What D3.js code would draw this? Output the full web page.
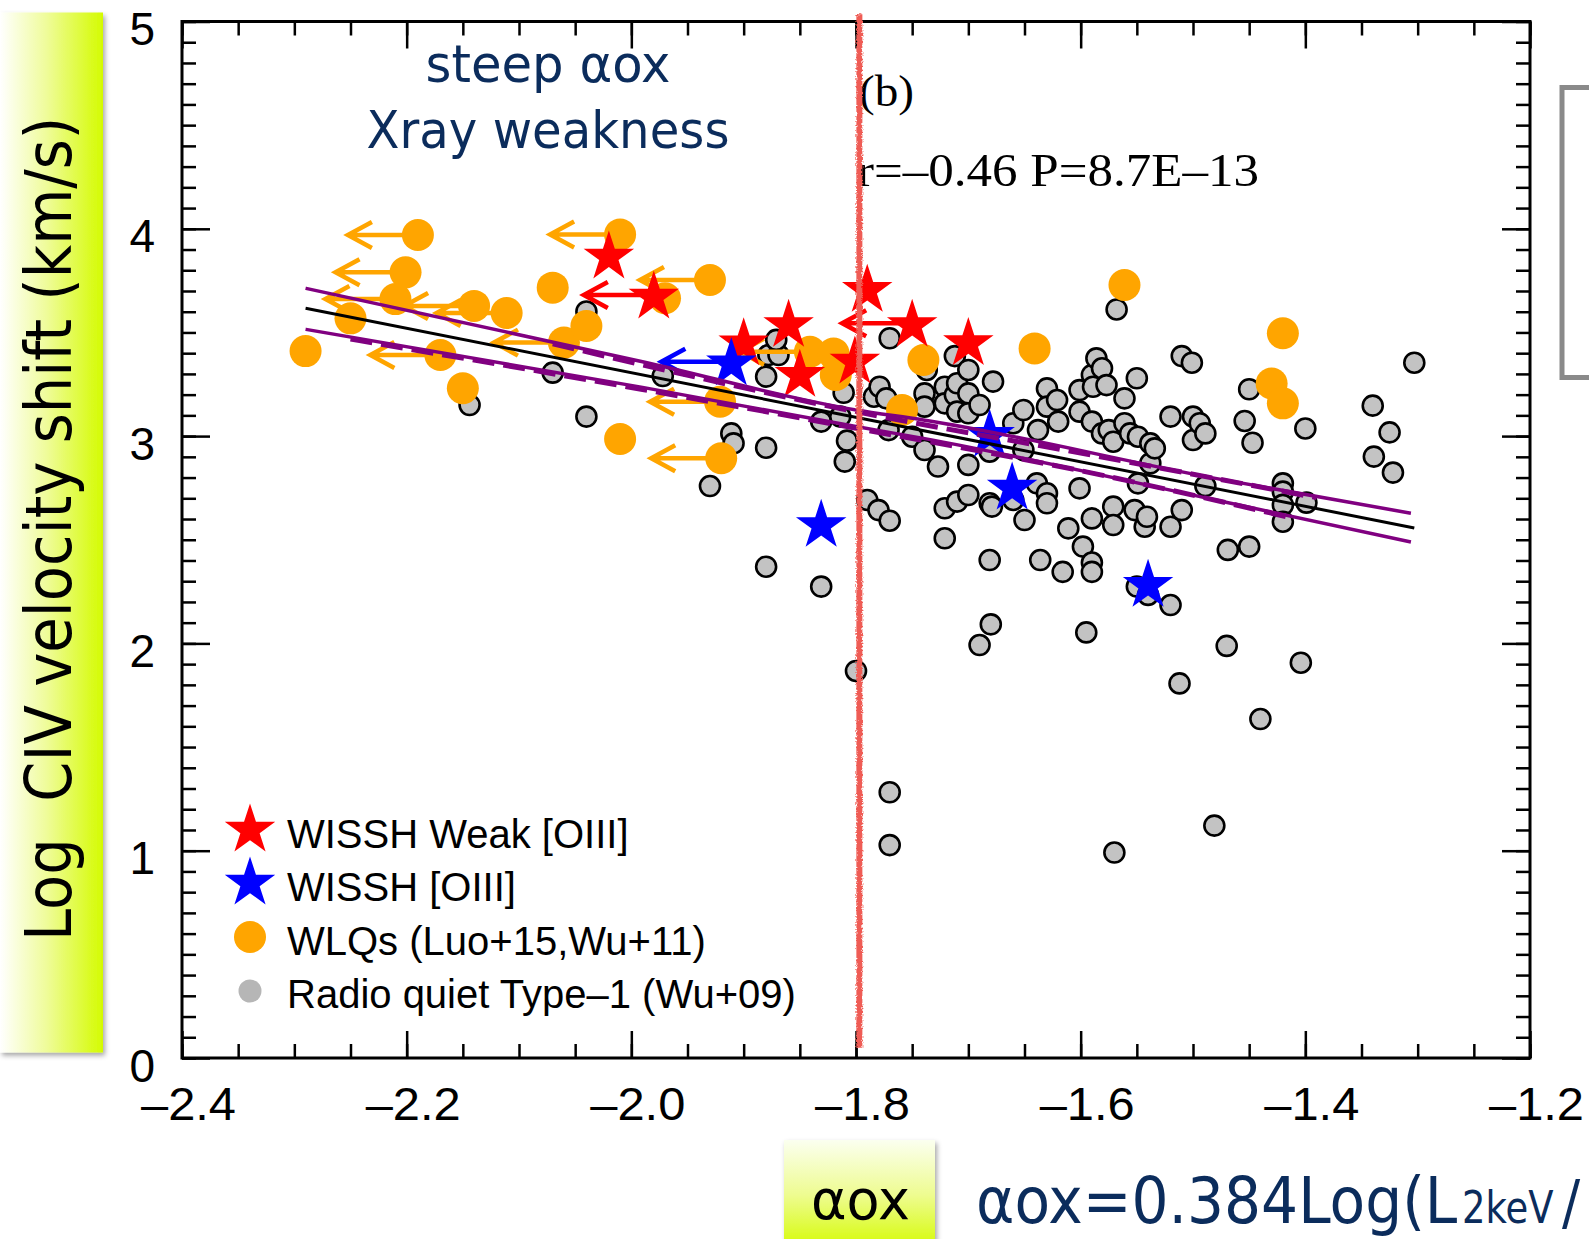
<!DOCTYPE html>
<html><head><meta charset="utf-8">
<script src="https://cdn.jsdelivr.net/npm/d3@7"></script>
<style>body{margin:0;background:#fff;} svg{display:block;}</style>
</head><body>
<svg id="chart" width="1589" height="1239"></svg>
<script>
// ---------------- DATA ----------------
const xTickValues = [-2.4, -2.2, -2.0, -1.8, -1.6, -1.4, -1.2];
const xTickLabels = ["–2.4", "–2.2", "–2.0", "–1.8", "–1.6", "–1.4", "–1.2"];
const yTickValues = [0, 1, 2, 3, 4, 5];
const yTickLabels = ["0", "1", "2", "3", "4", "5"];

// Radio quiet Type-1 (Wu+09)
const grayX = [-2.144,-2.070,-2.040,-2.040,-1.972,-1.930,-1.911,-1.909,-1.880,-1.880,-1.878,-1.869,-1.871,-1.880,-1.831,-1.831,-1.814,-1.811,-1.808,-1.810,
  -1.800,-1.790,-1.784,-1.780,-1.779,-1.773,-1.771,-1.770,-1.770,-1.770,-1.770,-1.750,-1.739,-1.739,-1.739,-1.737,-1.727,-1.721,-1.721,-1.721,
  -1.721,-1.712,-1.712,-1.710,-1.710,-1.710,-1.700,-1.700,-1.700,-1.700,-1.700,-1.690,-1.690,-1.681,-1.681,-1.681,-1.680,-1.679,-1.678,-1.660,
  -1.660,-1.651,-1.651,-1.650,-1.639,-1.638,-1.636,-1.630,-1.630,-1.630,-1.630,-1.621,-1.620,-1.616,-1.611,-1.601,-1.601,-1.601,-1.598,-1.595,
  -1.590,-1.590,-1.590,-1.590,-1.590,-1.589,-1.586,-1.581,-1.581,-1.577,-1.575,-1.571,-1.571,-1.571,-1.570,-1.568,-1.561,-1.561,-1.556,-1.552,
  -1.550,-1.550,-1.549,-1.549,-1.543,-1.541,-1.540,-1.538,-1.538,-1.534,-1.520,-1.520,-1.520,-1.512,-1.510,-1.510,-1.501,-1.500,-1.500,-1.494,
  -1.489,-1.489,-1.481,-1.470,-1.469,-1.454,-1.450,-1.450,-1.447,-1.440,-1.420,-1.420,-1.420,-1.420,-1.404,-1.400,-1.399,-1.340,-1.339,-1.325,
  -1.322,-1.303];
const grayY = [3.150,3.306,3.601,3.094,3.290,2.759,3.013,2.965,2.944,3.287,3.391,3.391,3.464,2.370,3.070,2.274,3.094,3.209,2.978,2.877,
  1.867,2.692,3.190,2.643,3.238,3.182,3.029,3.472,2.592,1.282,1.027,2.997,3.206,3.142,2.933,3.319,2.853,3.238,3.158,2.652,
  2.507,3.386,3.198,3.255,3.118,2.684,3.319,3.206,3.110,2.861,2.716,3.150,1.992,2.925,2.676,2.402,2.092,2.660,3.263,3.062,
  2.692,3.126,2.933,2.595,2.772,3.029,2.402,3.230,3.142,2.724,2.676,3.174,3.070,2.345,2.555,3.222,3.118,2.748,2.467,2.053,
  3.295,3.070,2.603,2.390,2.345,3.238,3.375,3.327,3.013,3.246,3.029,2.973,2.660,2.571,0.991,3.611,3.182,3.062,3.013,2.643,
  3.279,2.274,2.997,2.772,2.563,2.611,2.234,2.965,2.869,2.941,3.094,2.563,2.185,1.807,3.386,2.643,3.354,3.094,2.981,3.062,
  3.013,2.759,1.121,1.988,2.451,3.073,3.226,2.467,2.968,1.635,2.772,2.732,2.668,2.587,1.907,3.037,2.679,3.147,2.901,3.018,
  2.824,3.354];

// WLQs (Luo+15, Wu+11); limit = 1 means upper limit on alpha_ox (left arrow)
const wlqX = [-2.190,-2.010,-2.201,-1.930,-2.210,-2.140,-2.111,-2.170,-2.060,-1.921,-1.920,-1.841,
  -2.070,-2.250,-2.290,-2.040,-2.150,-2.010,-1.970,-1.820,-1.818,-1.759,-1.740,-1.561,-1.641,-1.420,-1.430,-1.420];
const wlqY = [3.970,3.973,3.790,3.753,3.661,3.628,3.594,3.391,3.451,3.166,2.893,3.407,
  3.716,3.568,3.410,3.531,3.231,2.986,3.665,3.399,3.295,3.126,3.367,3.729,3.423,3.496,3.254,3.158];
const wlqLimit = [1,1,1,1,1,1,1,1,1,1,1,1, 0,0,0,0,0,0,0,0,0,0,0,0,0,0,0,0];

// WISSH Weak [OIII]
const weakX = [-2.020,-1.980,-1.900,-1.860,-1.850,-1.801,-1.790,-1.750,-1.700];
const weakY = [3.874,3.681,3.455,3.544,3.303,3.367,3.713,3.544,3.456];
const weakLimit = [0,1,0,0,0,0,0,1,0];

// WISSH [OIII]
const wisshX = [-1.911,-1.831,-1.681,-1.661,-1.540];
const wisshY = [3.359,2.579,3.014,2.759,2.290];
const wisshLimit = [1,0,0,0,0];

// linear fit and its confidence band
const fitX = [-2.29, -1.303];
const fitY = [3.617, 2.557];
const bandX = [-2.29, -1.99, -1.80, -1.74, -1.48, -1.306];
const bandUpper = [3.713, 3.359, 3.126, 3.078, 2.796, 2.628];
const bandLower = [3.515, 3.235, 3.046, 2.989, 2.692, 2.489];
const dashUpperX = [-2.07, -1.80, -1.60, -1.39];
const dashUpperY = [3.445, 3.118, 2.918, 2.703];
const dashLowerX = [-2.25, -1.99, -1.80, -1.60, -1.41];
const dashLowerY = [3.468, 3.225, 3.038, 2.833, 2.603];

// alpha_ox threshold
const thresholdX = -1.797;
const thresholdY = [0.05, 5.035];

const legendLabels = ["WISSH Weak [OIII]", "WISSH [OIII]", "WLQs (Luo+15,Wu+11)", "Radio quiet Type–1 (Wu+09)"];

// ---------------- DRAWING ----------------
const svg = d3.select("#chart");
const M = {left: 182, right: 1530, top: 21.5, bottom: 1058};
const x = d3.scaleLinear().domain([-2.4, -1.2]).range([M.left, M.right]);
const y = d3.scaleLinear().domain([0, 5]).range([M.bottom, M.top]);

svg.append("rect").attr("width", 1589).attr("height", 1239).attr("fill", "#fff");

const defs = svg.append("defs");
const gH = defs.append("linearGradient").attr("id", "gH").attr("x1", "0").attr("x2", "1").attr("y1", "0").attr("y2", "0");
gH.append("stop").attr("offset", "0").attr("stop-color", "#ffffff");
gH.append("stop").attr("offset", "0.45").attr("stop-color", "#effc9a");
gH.append("stop").attr("offset", "1").attr("stop-color", "#d4fb00");
const gV = defs.append("linearGradient").attr("id", "gV").attr("x1", "0").attr("x2", "0").attr("y1", "0").attr("y2", "1");
gV.append("stop").attr("offset", "0").attr("stop-color", "#fbfff0");
gV.append("stop").attr("offset", "0.5").attr("stop-color", "#eefc90");
gV.append("stop").attr("offset", "1").attr("stop-color", "#d4fb00");
const sh = defs.append("filter").attr("id", "sh").attr("x", "-10%").attr("y", "-5%").attr("width", "130%").attr("height", "110%");
sh.append("feDropShadow").attr("dx", 2).attr("dy", 3).attr("stdDeviation", 2.5).attr("flood-color", "#000").attr("flood-opacity", 0.35);
const rough = defs.append("filter").attr("id", "rough").attr("filterUnits", "userSpaceOnUse")
  .attr("x", 820).attr("y", 0).attr("width", 80).attr("height", 1100);
rough.append("feTurbulence").attr("type", "fractalNoise").attr("baseFrequency", 0.6).attr("numOctaves", 2).attr("seed", 3).attr("result", "n");
rough.append("feDisplacementMap").attr("in", "SourceGraphic").attr("in2", "n").attr("scale", 4)
  .attr("xChannelSelector", "R").attr("yChannelSelector", "G");

// y-title box
svg.append("rect").attr("x", 0).attr("y", 12.5).attr("width", 103).attr("height", 1040)
  .attr("fill", "url(#gH)").attr("filter", "url(#sh)");
svg.append("text").attr("transform", "translate(71,529) rotate(-90) scale(0.9,1)")
  .attr("text-anchor", "middle").style("white-space", "pre")
  .style("font-family", "'DejaVu Sans'").style("font-size", "64px").attr("fill", "#000")
  .text("Log  CIV velocity shift (km/s)");

// x-title box
svg.append("rect").attr("x", 784).attr("y", 1140).attr("width", 151).attr("height", 110)
  .attr("fill", "url(#gV)").attr("filter", "url(#sh)");
svg.append("text").attr("transform", "translate(811,1219) scale(0.965,1)")
  .style("font-family", "'DejaVu Sans'").style("font-size", "56px").attr("fill", "#000").text("αox");
const navy = "#0b2c5c";
svg.append("text").attr("transform", "translate(976,1223) scale(0.91,1)")
  .style("font-family", "'DejaVu Sans'").style("font-size", "64px").attr("fill", navy).text("αox=0.384Log(L");
svg.append("text").attr("transform", "translate(1462,1223) scale(0.84,1)")
  .style("font-family", "'DejaVu Sans'").style("font-size", "44px").attr("fill", navy).text("2keV");
svg.append("text").attr("transform", "translate(1562,1223) scale(0.9,1)")
  .style("font-family", "'DejaVu Sans'").style("font-size", "60px").attr("fill", navy).text("/");

// right partial box
svg.append("rect").attr("x", 1562).attr("y", 87.5).attr("width", 60).attr("height", 290)
  .attr("fill", "none").attr("stroke", "#8a8a8a").attr("stroke-width", 5);

// axes
const tickFont = g => g.selectAll("text").style("font-family", "'Liberation Sans', Arial, sans-serif")
  .style("font-size", "46px").attr("fill", "#000");
const tickLines = g => { g.select(".domain").remove(); g.selectAll("line").attr("stroke", "#000").attr("stroke-width", 2.5); };
const xMinor = d3.range(-2.4, -1.1999, 0.05);
const yMinor = d3.range(0, 5.0001, 0.1);

svg.append("g").attr("transform", `translate(0,${M.bottom})`)
  .call(d3.axisBottom(x).tickValues(xMinor).tickSize(-14).tickSizeOuter(0).tickFormat("")).call(tickLines);
svg.append("g").attr("transform", `translate(0,${M.bottom})`)
  .call(d3.axisBottom(x).tickValues(xTickValues).tickSize(-27).tickSizeOuter(0).tickPadding(29)
    .tickFormat((d, i) => xTickLabels[i])).call(tickLines).call(tickFont)
  .call(g => g.selectAll("text").attr("dx", 6).attr("textLength", 95).attr("lengthAdjust", "spacingAndGlyphs"));
svg.append("g").attr("transform", `translate(0,${M.top})`)
  .call(d3.axisTop(x).tickValues(xMinor).tickSize(-14).tickSizeOuter(0).tickFormat("")).call(tickLines);
svg.append("g").attr("transform", `translate(0,${M.top})`)
  .call(d3.axisTop(x).tickValues(xTickValues).tickSize(-27).tickSizeOuter(0).tickFormat("")).call(tickLines);
svg.append("g").attr("transform", `translate(${M.left},0)`)
  .call(d3.axisLeft(y).tickValues(yMinor).tickSize(-14).tickSizeOuter(0).tickFormat("")).call(tickLines);
svg.append("g").attr("transform", `translate(${M.left},0)`)
  .call(d3.axisLeft(y).tickValues(yTickValues).tickSize(-28).tickSizeOuter(0).tickPadding(27)
    .tickFormat((d, i) => yTickLabels[i])).call(tickLines).call(tickFont)
  .call(g => g.selectAll("text").attr("dy", "0.5em"));
svg.append("g").attr("transform", `translate(${M.right},0)`)
  .call(d3.axisRight(y).tickValues(yMinor).tickSize(-14).tickSizeOuter(0).tickFormat("")).call(tickLines);
svg.append("g").attr("transform", `translate(${M.right},0)`)
  .call(d3.axisRight(y).tickValues(yTickValues).tickSize(-28).tickSizeOuter(0).tickFormat("")).call(tickLines);

svg.append("rect").attr("x", M.left).attr("y", M.top).attr("width", M.right - M.left).attr("height", M.bottom - M.top)
  .attr("fill", "none").attr("stroke", "#000").attr("stroke-width", 3);

// helpers
const ARROW = 70, HEAD_X = 24, HEAD_Y = 13;
function drawArrow(g, px, py, color) {
  const hx = px - ARROW;
  g.append("path").attr("d", `M${px},${py}L${hx},${py}M${hx + HEAD_X},${py - HEAD_Y}L${hx},${py}L${hx + HEAD_X},${py + HEAD_Y}`)
    .attr("fill", "none").attr("stroke", color).attr("stroke-width", 4.5).attr("stroke-linejoin", "miter");
}
const star = d3.symbol().type(d3.symbolStar).size(790);

// gray points
const gGray = svg.append("g");
grayX.forEach((v, i) => {
  gGray.append("circle").attr("cx", x(v)).attr("cy", y(grayY[i])).attr("r", 10)
    .attr("fill", "#c3c3c3").attr("stroke", "#000").attr("stroke-width", 2.6);
});

// WLQs
const gW = svg.append("g");
wlqX.forEach((v, i) => { if (wlqLimit[i]) drawArrow(gW, x(v), y(wlqY[i]), "#ffa500"); });
wlqX.forEach((v, i) => {
  gW.append("circle").attr("cx", x(v)).attr("cy", y(wlqY[i])).attr("r", 16).attr("fill", "#ffa500");
});

// stars
const gS = svg.append("g");
wisshX.forEach((v, i) => { if (wisshLimit[i]) drawArrow(gS, x(v), y(wisshY[i]), "#0000ff"); });
weakX.forEach((v, i) => { if (weakLimit[i]) drawArrow(gS, x(v), y(weakY[i]), "#ff0000"); });
weakX.forEach((v, i) => {
  gS.append("path").attr("d", star).attr("transform", `translate(${x(v)},${y(weakY[i]) + 2})`).attr("fill", "#ff0000");
});
wisshX.forEach((v, i) => {
  gS.append("path").attr("d", star).attr("transform", `translate(${x(v)},${y(wisshY[i]) + 2})`).attr("fill", "#0000ff");
});

// fit lines
const lineGen = (xs, ys) => d3.line().curve(d3.curveMonotoneX).x((d, i) => x(xs[i])).y((d, i) => y(ys[i]))(xs);
svg.append("path").attr("d", lineGen(dashUpperX, dashUpperY)).attr("fill", "none").attr("stroke", "#800080")
  .attr("stroke-width", 5).attr("stroke-dasharray", "22,9");
svg.append("path").attr("d", lineGen(dashLowerX, dashLowerY)).attr("fill", "none").attr("stroke", "#800080")
  .attr("stroke-width", 5).attr("stroke-dasharray", "22,9");
svg.append("path").attr("d", lineGen(bandX, bandUpper)).attr("fill", "none").attr("stroke", "#800080").attr("stroke-width", 3.5);
svg.append("path").attr("d", lineGen(bandX, bandLower)).attr("fill", "none").attr("stroke", "#800080").attr("stroke-width", 3.5);
svg.append("path").attr("d", lineGen(fitX, fitY)).attr("fill", "none").attr("stroke", "#000").attr("stroke-width", 3);

// legend
const lg = svg.append("g");
const legRowY = [828, 881, 937, 991];
const legBase = [847.6, 901, 954.6, 1008];
lg.append("path").attr("d", star).attr("transform", `translate(250,${legRowY[0] + 2})`).attr("fill", "#ff0000");
lg.append("path").attr("d", star).attr("transform", `translate(250,${legRowY[1] + 2})`).attr("fill", "#0000ff");
lg.append("circle").attr("cx", 250).attr("cy", legRowY[2]).attr("r", 16).attr("fill", "#ffa500");
lg.append("circle").attr("cx", 250).attr("cy", legRowY[3]).attr("r", 11.5).attr("fill", "#b6b6b6");
legendLabels.forEach((t, i) => {
  lg.append("text").attr("x", 287).attr("y", legBase[i])
    .style("font-family", "'Liberation Sans', Arial, sans-serif").style("font-size", "40px").attr("fill", "#000").text(t);
});

// annotations
svg.append("text").attr("x", 548).attr("y", 82).attr("text-anchor", "middle")
  .attr("textLength", 245).attr("lengthAdjust", "spacingAndGlyphs")
  .style("font-family", "'DejaVu Sans'").style("font-size", "51px").attr("fill", navy).text("steep αox");
svg.append("text").attr("x", 548).attr("y", 148).attr("text-anchor", "middle")
  .attr("textLength", 363).attr("lengthAdjust", "spacingAndGlyphs")
  .style("font-family", "'DejaVu Sans'").style("font-size", "51px").attr("fill", navy).text("Xray weakness");
svg.append("text").attr("x", 859).attr("y", 106)
  .attr("textLength", 55).attr("lengthAdjust", "spacingAndGlyphs")
  .style("font-family", "'Liberation Serif', 'Times New Roman', serif").style("font-size", "45px").attr("fill", "#000").text("(b)");
svg.append("text").attr("x", 857).attr("y", 186)
  .attr("textLength", 402).attr("lengthAdjust", "spacingAndGlyphs")
  .style("font-family", "'Liberation Serif', 'Times New Roman', serif").style("font-size", "47px").attr("fill", "#000")
  .text("r=–0.46 P=8.7E–13");

// threshold line (on top)
svg.append("line").attr("x1", x(thresholdX)).attr("x2", x(thresholdX))
  .attr("y1", y(thresholdY[0])).attr("y2", y(thresholdY[1]))
  .attr("stroke", "#ef5b55").attr("stroke-width", 6).attr("filter", "url(#rough)");
</script>
</body></html>
